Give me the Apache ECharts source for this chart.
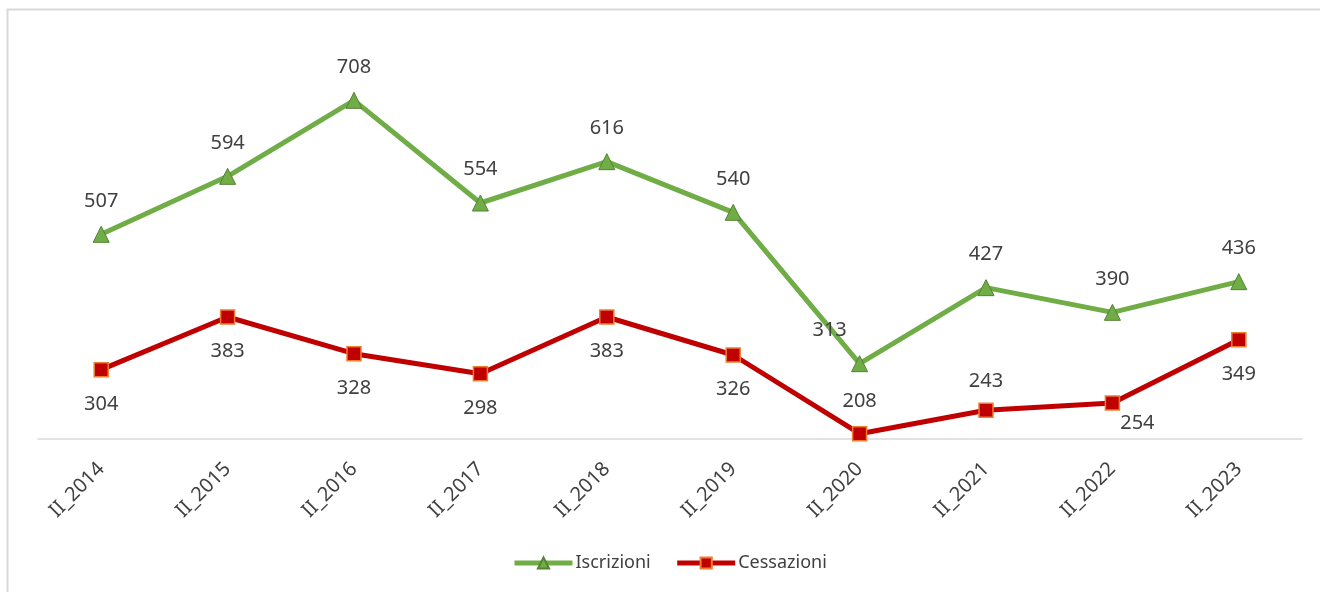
<!DOCTYPE html>
<html>
<head>
<meta charset="utf-8">
<script src="https://cdn.jsdelivr.net/npm/echarts@6/dist/echarts.min.js"></script>
<style>
  html, body { margin: 0; padding: 0; background: #fff; }
  #container { width: 1320px; height: 592px; }
</style>
</head>
<body>
<div id="container"></div>
<script>
// dati del grafico
var periodi = ['II_2014', 'II_2015', 'II_2016', 'II_2017', 'II_2018', 'II_2019', 'II_2020', 'II_2021', 'II_2022', 'II_2023'];
var iscrizioni = [507, 594, 708, 554, 616, 540, 313, 427, 390, 436];
var cessazioni = [304, 383, 328, 298, 383, 326, 208, 243, 254, 349];
// posizione etichette cessazioni (208 e 243 stanno sopra)
var posCessazioni = ['bottom', 'bottom', 'bottom', 'bottom', 'bottom', 'bottom', 'top', 'top', 'bottom', 'bottom'];

var font = 'Noto Sans, Open Sans, sans-serif';

var dom = document.getElementById('container');
var myChart = echarts.init(dom);

// spostamenti a mano delle etichette che nel grafico originale sono di lato
var offIscrizioni = { 6: [-30, 0] };
var offCessazioni = { 6: [0, 2], 7: [0, 6], 8: [25, -14] };

var iscrData = [];
for (var i = 0; i < iscrizioni.length; i++) {
	var it = { value: iscrizioni[i] };
	if (offIscrizioni[i]) it.label = { offset: offIscrizioni[i] };
	iscrData.push(it);
}
var cessData = [];
for (var j = 0; j < cessazioni.length; j++) {
	var lb = { position: posCessazioni[j] };
	if (offCessazioni[j]) lb.offset = offCessazioni[j];
	cessData.push({ value: cessazioni[j], label: lb });
}

var option = {
	animation: false,
	backgroundColor: '#ffffff',
	grid: { left: 38, right: 18, top: 39, bottom: 153 },
	graphic: [{
		type: 'rect',
		shape: { x: 7.5, y: 9.5, width: 1330, height: 600 },
		style: { fill: 'none', stroke: '#d9d9d9', lineWidth: 2 },
		silent: true
	}],
	legend: {
		bottom: 15,
		left: 507,
		itemWidth: 58,
		itemHeight: 14,
		itemGap: 24,
		lineStyle: { width: 5 },
		textStyle: { fontFamily: font, fontSize: 18, color: '#404040', padding: [0, 0, 0, -2] },
		data: ['Iscrizioni', 'Cessazioni']
	},
	xAxis: {
		type: 'category',
		data: periodi,
		boundaryGap: true,
		axisLine: { lineStyle: { color: '#d9d9d9', width: 1.5 } },
		axisTick: { show: false },
		axisLabel: {
			rotate: 45,
			margin: 27,
			fontFamily: font,
			fontSize: 20,
			color: '#404040'
		}
	},
	yAxis: {
		type: 'value',
		min: 200,
		max: 800,
		interval: 100,
		show: false,
		splitLine: { show: false }
	},
	series: [
		{
			name: 'Iscrizioni',
			type: 'line',
			data: iscrData,
			symbol: 'triangle',
			symbolSize: 16,
			lineStyle: { color: '#70ad47', width: 5 },
			itemStyle: { color: '#70ad47', borderColor: '#548235', borderWidth: 1 },
			label: {
				show: true,
				position: 'top',
				distance: 15,
				fontFamily: font,
				fontSize: 20,
				color: '#404040'
			}
		},
		{
			name: 'Cessazioni',
			type: 'line',
			data: cessData,
			symbol: 'rect',
			symbolSize: 14,
			lineStyle: { color: '#c00000', width: 5 },
			itemStyle: { color: '#c00000', borderColor: '#ed7d31', borderWidth: 1.5 },
			label: {
				show: true,
				distance: 17,
				fontFamily: font,
				fontSize: 20,
				color: '#404040'
			}
		}
	]
};
myChart.setOption(option, true);
</script>
</body>
</html>
